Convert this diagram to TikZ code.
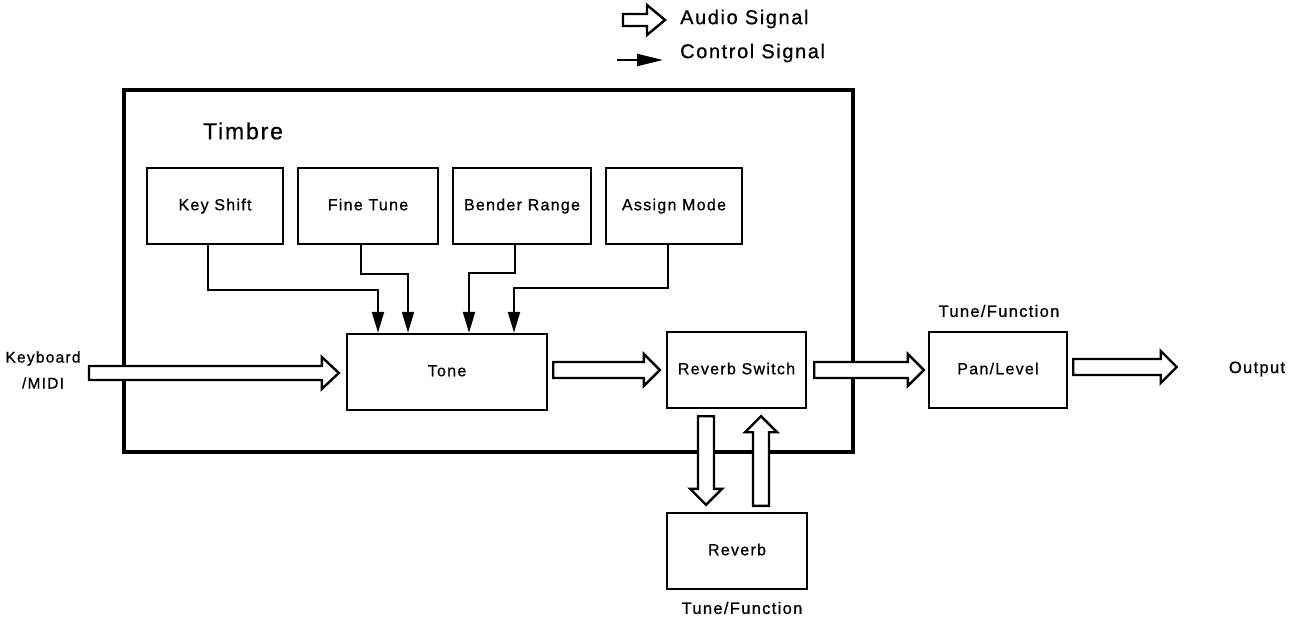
\documentclass[tikz,border=0pt]{standalone}
\usepackage{fontspec}
\setmainfont[LetterSpace=8,FakeBold=0.8]{Liberation Sans}
\usetikzlibrary{arrows.meta,calc}
\newcommand{\fatH}[5]{\draw[audio] let \p1=(#1), \p2=(#2) in
  (\x1,\y2+#3) -- (\x2-#5,\y2+#3) -- (\x2-#5,\y2+#4) -- (\x2,\y2) --
  (\x2-#5,\y2-#4) -- (\x2-#5,\y2-#3) -- (\x1,\y2-#3) -- cycle;}
\newcommand{\fatDown}[5]{\draw[audio] let \p1=(#1), \p2=(#2) in
  (\x1-#3,\y1) -- (\x1-#3,\y2+#5) -- (\x1-#4,\y2+#5) -- (\x1,\y2) --
  (\x1+#4,\y2+#5) -- (\x1+#3,\y2+#5) -- (\x1+#3,\y1) -- cycle;}
\newcommand{\fatUp}[5]{\draw[audio] let \p1=(#1), \p2=(#2) in
  (\x1-#3,\y1) -- (\x1-#3,\y2-#5) -- (\x1-#4,\y2-#5) -- (\x1,\y2) --
  (\x1+#4,\y2-#5) -- (\x1+#3,\y2-#5) -- (\x1+#3,\y1) -- cycle;}
\begin{document}
\begin{tikzpicture}[x=1pt,y=-1pt,
  box/.style={draw,line width=2.4pt,minimum height=76pt,inner sep=0pt,
    font=\fontsize{16}{18}\selectfont,text height=11.5pt,text depth=3pt},
  lbl/.style={inner sep=0pt,font=\fontsize{16.5}{20}\selectfont},
  audio/.style={draw,line width=2.4pt,fill=white,line join=miter},
  ctrl/.style={line width=2.2pt,-{Triangle[length=21pt,width=12pt]}},
  ctrlleg/.style={line width=2.2pt,-{Triangle[length=26pt,width=12pt]}}]
\useasboundingbox (0,0) rectangle (1291,623);
% outer Timbre box
\draw[line width=3.4pt] (124,90) rectangle (853,452);
\node[inner sep=0pt,font=\fontsize{23}{26}\selectfont] (timbre) at (243,131) {Timbre};
% parameter boxes
\node[box,minimum width=136pt] (ks) at (215,206) {Key Shift};
\node[box,minimum width=140pt] (ft) at (368,206) {Fine Tune};
\node[box,minimum width=138pt] (br) at (522,206) {Bender Range};
\node[box,minimum width=136pt] (am) at (674,206) {Assign Mode};
% main boxes
\node[box,minimum width=200pt] (tone) at (447,372) {Tone};
\node[box,minimum width=139pt] (rs) at (736.5,370) {Reverb Switch};
\node[box,minimum width=138pt] (pan) at (998,370) {Pan/Level};
\node[box,minimum width=140pt] (reverb) at (737,551) {Reverb};
% labels
\node[lbl,align=center,font=\fontsize{15.5}{26}\selectfont] (kb) at (43,370) {Keyboard\\/MIDI};
\node[lbl] (output) at (1257,369) {Output};
\node[lbl] (tf1) at (999,311) {Tune/Function};
\node[lbl] (tf2) at (742,608) {Tune/Function};
% control arrows
\draw[ctrl] ([xshift=-7pt]ks.south) -- ++(0,45) -| ([xshift=-69pt]tone.north);
\draw[ctrl] ([xshift=-7pt]ft.south) -- ++(0,29) -| ([xshift=-39pt]tone.north);
\draw[ctrl] ([xshift=-7pt]br.south) -- ++(0,28) -| ([xshift=22pt]tone.north);
\draw[ctrl] ([xshift=-6pt]am.south) -- ++(0,43) -| ([xshift=67pt]tone.north);
% audio arrows
\coordinate (kbstart) at (89,373);
\fatH{kbstart}{$(tone.west)+(-7,1)$}{7}{16}{17}
\fatH{$(tone.east)+(5,0)$}{$(rs.west)+(-6,0)$}{8}{16}{16}
\fatH{$(rs.east)+(7,0)$}{$(pan.west)+(-4,0)$}{8}{16}{16}
\fatH{$(pan.east)+(5,0)$}{$(output.west)+(-52,-2)$}{8}{16}{16}
\fatDown{$(rs.south)+(-30.5,7)$}{$(reverb.north)+(0,-7)$}{8}{16}{16}
\fatUp{$(reverb.north)+(24,-6)$}{$(rs.south)+(0,7)$}{8}{16}{16}
% legend
\coordinate (la1) at (623,20);
\coordinate (la2) at (665,20);
\fatH{la1}{la2}{6}{15}{18}
\node[inner sep=0pt,anchor=west,font=\fontsize{20}{22}\selectfont] (leg1) at (680,19) {Audio Signal};
\coordinate (lc1) at (617,60);
\coordinate (lc2) at (663,60);
\draw[ctrlleg] (lc1) -- (lc2);
\node[inner sep=0pt,anchor=west,font=\fontsize{20}{22}\selectfont] (leg2) at (680,53) {Control Signal};
\end{tikzpicture}
\end{document}
